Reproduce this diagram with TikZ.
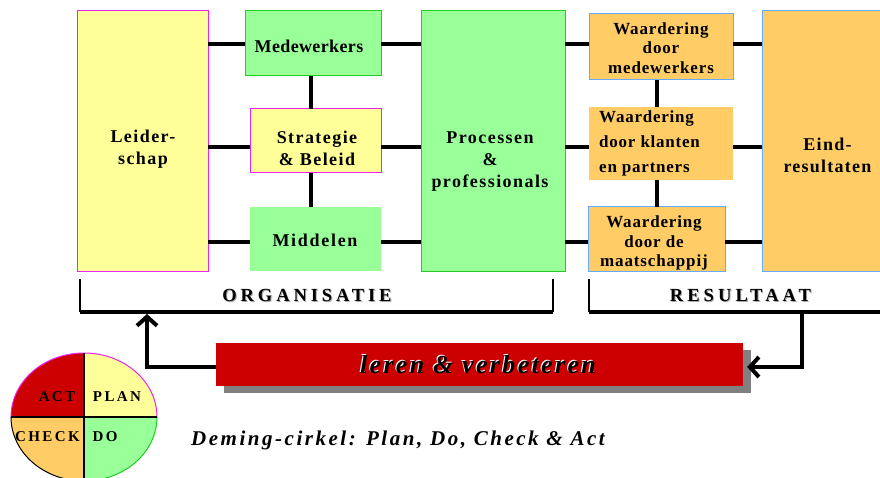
\documentclass[tikz,border=0pt]{standalone}
\usepackage{fontspec}
\setmainfont{Liberation Serif}
\usetikzlibrary{arrows.meta,shadows}
\definecolor{cyel}{HTML}{FFFF99}
\definecolor{cgrn}{HTML}{99FF99}
\definecolor{corg}{HTML}{FFCC66}
\definecolor{cred}{HTML}{CC0000}
\definecolor{cmag}{HTML}{EE22EE}
\definecolor{cgb}{HTML}{22CC22}
\definecolor{cblu}{HTML}{66AAFF}
\definecolor{cshd}{HTML}{808080}
\newcommand{\lsp}[1]{\addfontfeature{LetterSpace=#1}}
\begin{document}
\begin{tikzpicture}[x=1pt,y=-1pt,
  shapebox/.style={inner sep=0pt,outer sep=0pt,line width=1pt},
  ybox/.style={shapebox,fill=cyel,draw=cmag},
  gbox/.style={shapebox,fill=cgrn,draw=cgb},
  obox/.style={shapebox,fill=corg,draw=cblu},
  lbl/.style={inner sep=0pt,align=center,font=\fontsize{18}{22}\selectfont\bfseries\lsp{#1}},
  lbl/.default=8,
  wlbl/.style={inner sep=0pt,align=center,font=\fontsize{17}{19.5}\selectfont\bfseries\lsp{#1}},
  wlbl/.default=5,
  conn/.style={line width=4pt},
  brk/.style={line width=#1},
  arr/.style={line width=4pt,-{Straight Barb[length=9pt,width=20pt]}},
  captxt/.style={inner sep=0pt,font=\fontsize{18.5}{20}\selectfont\bfseries\lsp{#1}},
  dq/.style={inner sep=0pt,font=\fontsize{15}{16}\selectfont\bfseries\lsp{16}}
]
\useasboundingbox (0,0) rectangle (880,478);

% boxes
\node[ybox,minimum width=131pt,minimum height=260pt] (lead) at (142.5,141) {};
\node[gbox,minimum width=136pt,minimum height=65pt] (med) at (313,43.5) {};
\node[ybox,minimum width=131pt,minimum height=64pt] (str) at (315.5,141) {};
\node[shapebox,fill=cgrn,minimum width=131pt,minimum height=64pt] (mid) at (315.5,239) {};
\node[gbox,minimum width=144pt,minimum height=260pt] (proc) at (493,141) {};
\node[obox,minimum width=144pt,minimum height=66pt] (w1) at (661,47) {};
\node[shapebox,fill=corg,minimum width=144pt,minimum height=73pt] (w2) at (661,143.5) {};
\node[obox,minimum width=137pt,minimum height=64pt] (w3) at (656.5,239) {};
\node[obox,minimum width=120pt,minimum height=260pt] (eind) at (822,141) {};

% connectors
\foreach \a/\b/\y in {lead/med/44,med/proc/44,proc/w1/44,w1/eind/44,
                      lead/str/147,str/proc/147,proc/w2/147,w2/eind/147,
                      lead/mid/242,mid/proc/242,proc/w3/242,w3/eind/242}
  \draw[conn] (\a.east |- 0,\y) -- (\b.west |- 0,\y);
\draw[conn] (311,0 |- med.south) -- (311,0 |- str.north);
\draw[conn] (311,0 |- str.south) -- (311,0 |- mid.north);
\draw[conn] (657,0 |- w1.south) -- (657,0 |- w2.north);
\draw[conn] (657,0 |- w2.south) -- (657,0 |- w3.north);

% labels
\node[lbl=8] (tlead) at (143,149) {Leider-\\schap};
\node[lbl=2] (tmed) at (309,46) {Medewerkers};
\node[lbl=8] (tstr) at (317,148) {Strategie\\\& Beleid};
\node[lbl=9.5] (tmid) at (315,240) {Middelen};
\node[lbl=8] (tproc) at (490,162) {Processen\\\&\\professionals};
\node[wlbl] (tw1) at (661,48) {Waardering\\door\\medewerkers};
\node[wlbl,align=left,font=\fontsize{17}{25}\selectfont\bfseries\lsp{4.5},anchor=west] (tw2) at (599,143) {Waardering\\door klanten\\en partners};
\node[wlbl] (tw3) at (654,243) {Waardering\\door de\\maatschappij};
\node[lbl=7] (teind) at (827.5,155.5) {Eind-\\resultaten};

% brackets
\coordinate (o1) at (80,279);
\coordinate (o2) at (80,312);
\coordinate (o3) at (553,312);
\coordinate (o4) at (553,279);
\draw[brk=1.2pt] (o1) -- (o2);
\draw[brk=3.5pt] (o2) -- (o3);
\draw[brk=2pt] (o3) -- (o4);
\coordinate (r1) at (589,279);
\coordinate (r2) at (589,312);
\coordinate (r3) at (882,312);
\draw[brk=1.2pt] (r1) -- (r2);
\draw[brk=3.5pt] (r2) -- (r3);
\node[captxt=21,text=cshd!70] (torgs) at (308,296) {ORGANISATIE};
\node[captxt=21] (torg) at (307,295) {ORGANISATIE};
\node[captxt=22,text=cshd!70] (tress) at (741.5,296) {RESULTAAT};
\node[captxt=22] (tres) at (740.5,295) {RESULTAAT};

% leren & verbeteren
\node[inner sep=0pt,fill=cred,minimum width=527pt,minimum height=43pt,
      general shadow={fill=cshd,shadow xshift=8pt,shadow yshift=-7pt}] (lv) at (479.5,364.5) {};
\node[inner sep=0pt,text=white,font=\fontsize{26}{28}\selectfont\bfseries\itshape\lsp{9}] (tlvs) at (477,364) {leren \& verbeteren};
\node[inner sep=0pt,font=\fontsize{26}{28}\selectfont\bfseries\itshape\lsp{9}] (tlv) at (478,365) {leren \& verbeteren};

% feedback arrows
\coordinate (al) at (147,314);
\coordinate (rr) at (802,312);
\draw[arr] (lv.west |- 0,367) -| (al);
\draw[arr] (rr) |- ([xshift=4pt]lv.east |- 0,367);

% Deming circle
\begin{scope}
  \clip (84,417) ellipse [x radius=73pt, y radius=64pt];
  \fill[cred] (0,340) rectangle (84,417);
  \fill[cyel] (84,340) rectangle (170,417);
  \fill[corg] (0,417) rectangle (84,490);
  \fill[cgrn] (84,417) rectangle (170,490);
\end{scope}
\begin{scope}
  \clip (0,340) rectangle (170,417);
  \draw[cmag,line width=1pt] (84,417) ellipse [x radius=73pt, y radius=64pt];
\end{scope}
\begin{scope}
  \clip (0,417) rectangle (84,490);
  \draw[black,line width=1pt] (84,417) ellipse [x radius=73pt, y radius=64pt];
\end{scope}
\begin{scope}
  \clip (84,417) rectangle (170,490);
  \draw[cgb,line width=1pt] (84,417) ellipse [x radius=73pt, y radius=64pt];
\end{scope}
\coordinate (dt) at (84,353);
\coordinate (db) at (84,481);
\coordinate (dl) at (11,417);
\coordinate (dr) at (157,417);
\draw[line width=2.5pt] (dt) -- (db);
\draw[line width=2.5pt] (dl) -- (dr);
\node[dq] (tact) at (57,397) {ACT};
\node[dq] (tplan) at (117,397) {PLAN};
\node[dq] (tcheck) at (47.5,437) {CHECK};
\node[dq] (tdo) at (105,437) {DO};

\node[inner sep=0pt,font=\fontsize{21}{23}\selectfont\bfseries\itshape\lsp{12}] (tdem) at (398,440) {Deming-cirkel: Plan, Do, Check \& Act};
\end{tikzpicture}
\end{document}
